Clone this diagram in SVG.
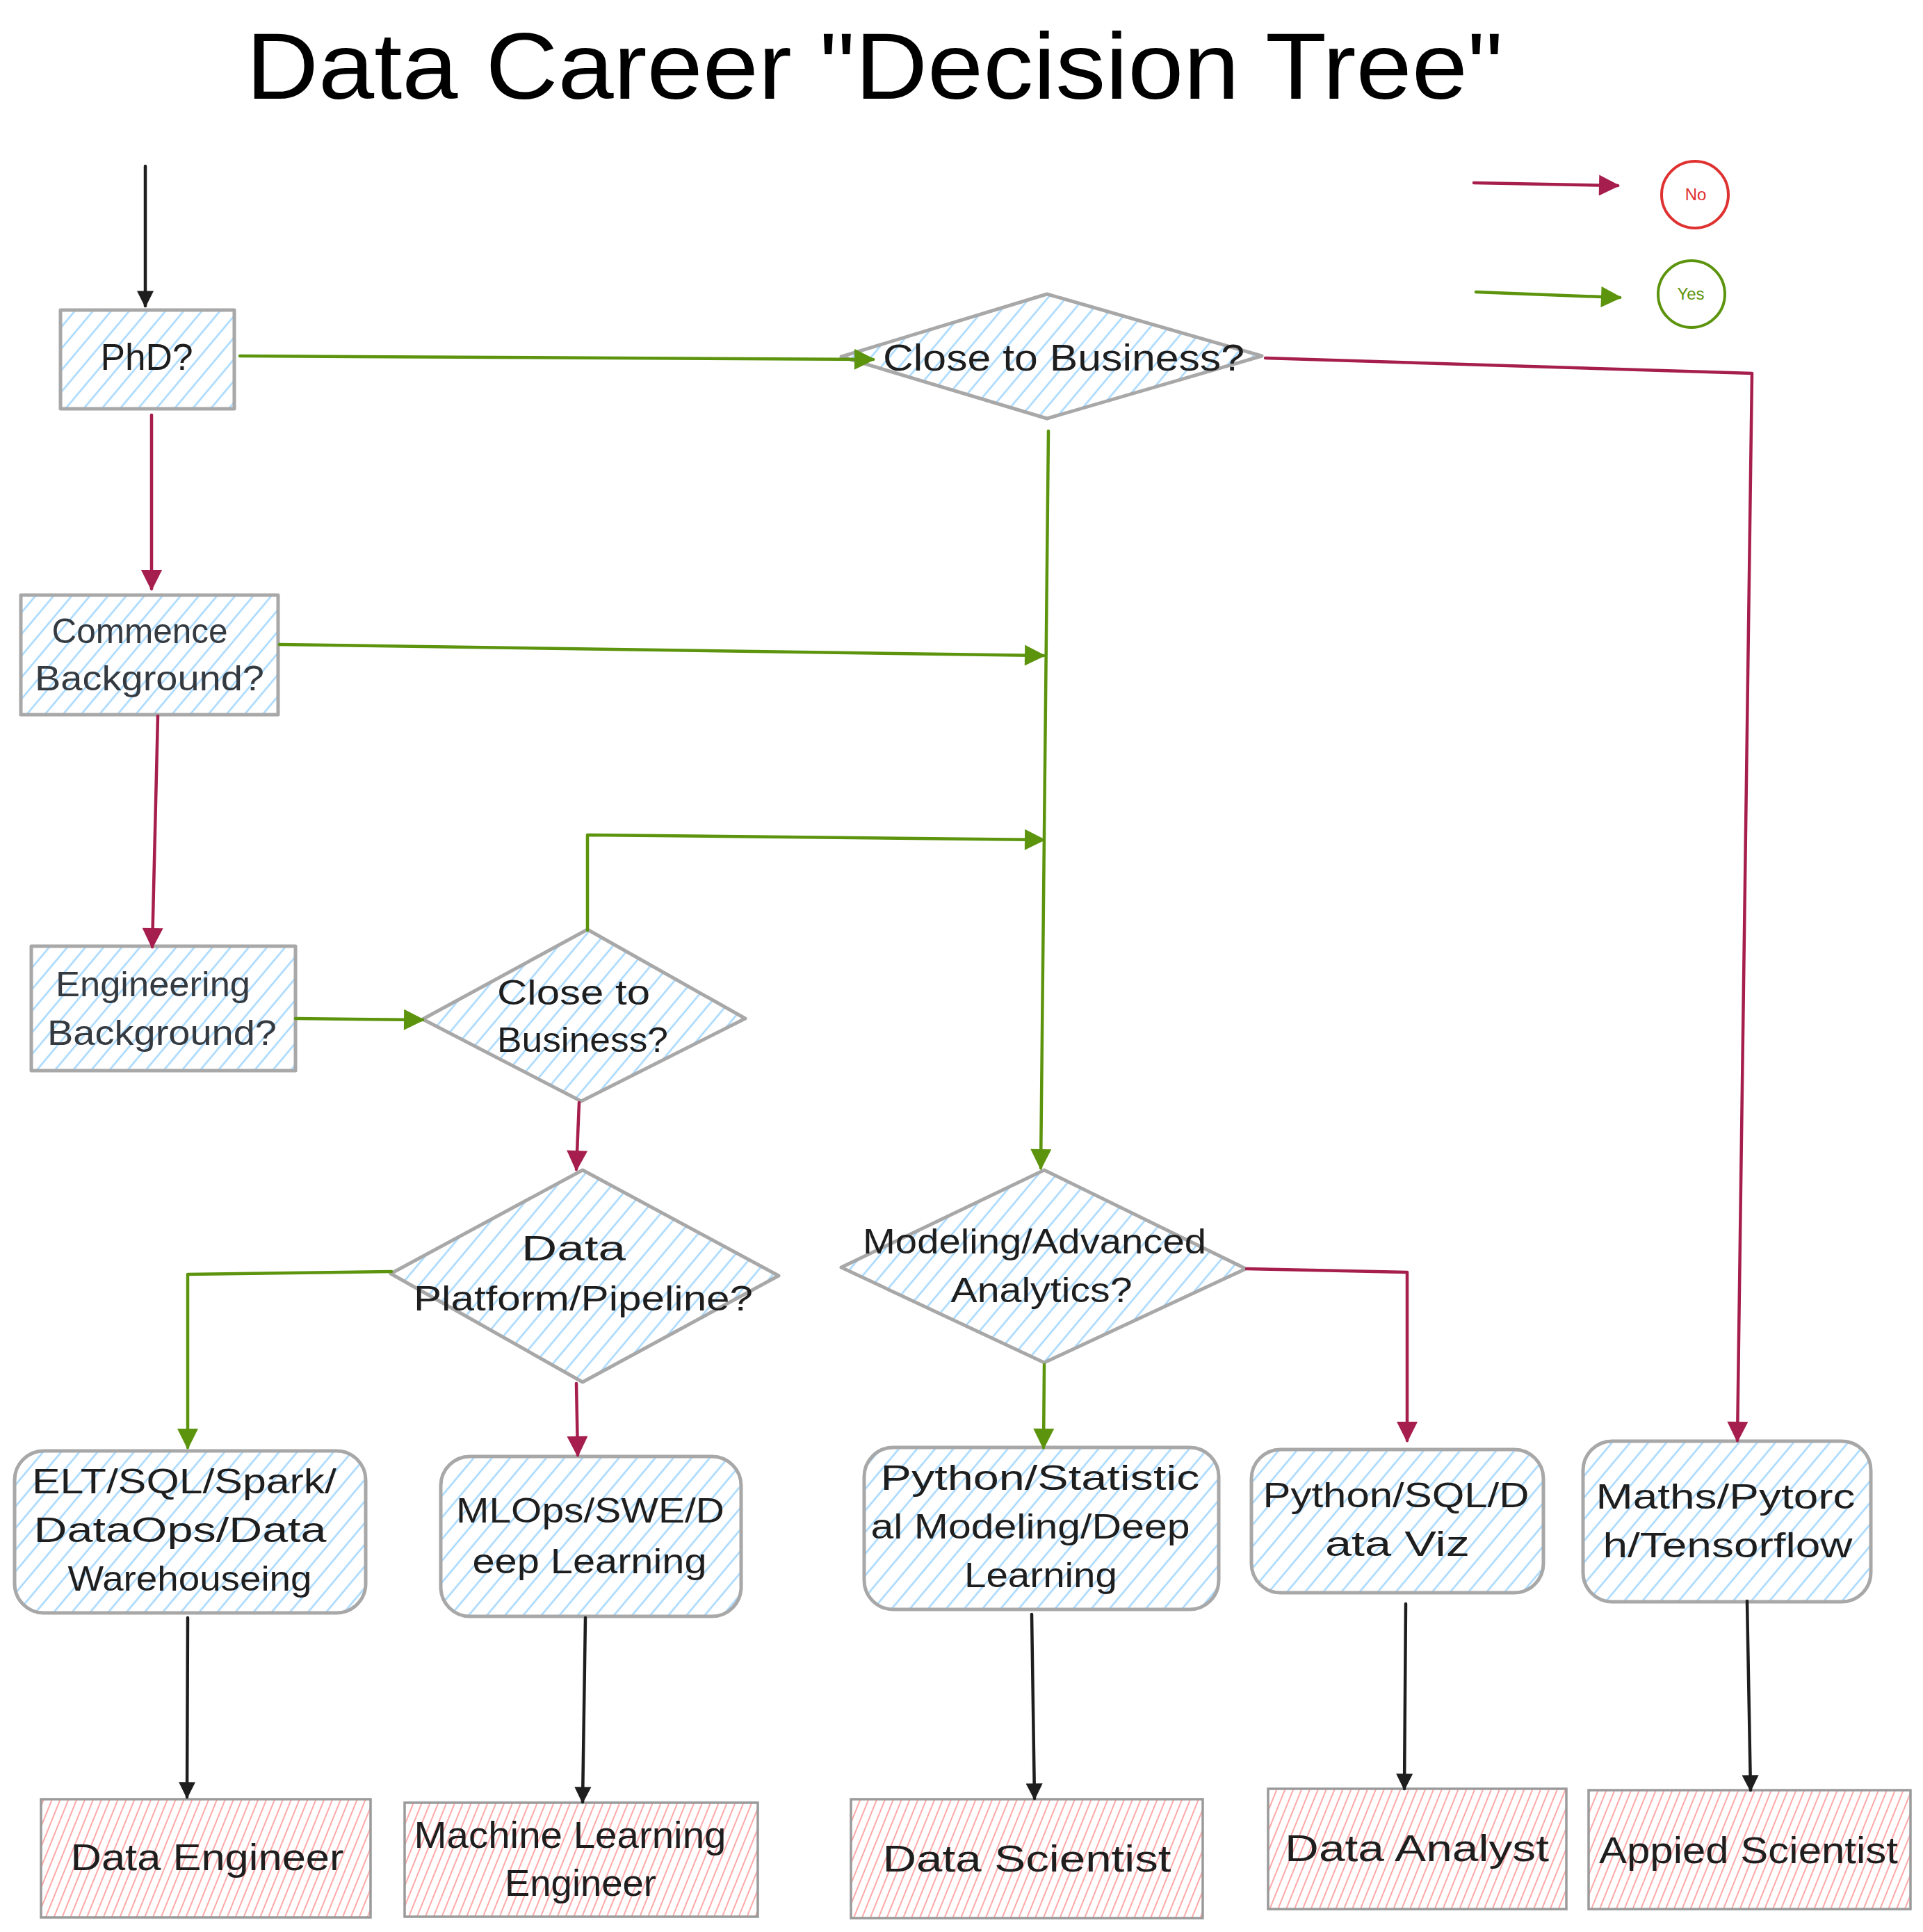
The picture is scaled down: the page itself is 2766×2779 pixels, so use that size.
<svg xmlns="http://www.w3.org/2000/svg" width="2766" height="2779" viewBox="0 0 2766 2779">
<style>
.t{font-family:"Liberation Sans","DejaVu Sans",sans-serif;font-size:50px;fill:#1e1e1e;text-anchor:middle}
.g{fill:#343a40}
.q{fill:url(#hb);stroke:#a8a8a8;stroke-width:5;stroke-linejoin:round}
.p{fill:url(#hp);stroke:#9a9a9a;stroke-width:3.5}
.c{fill:none;stroke-width:4.5;stroke-linecap:round;stroke-linejoin:round}
.r{stroke:#a61e4d;marker-end:url(#ar)}
.v{stroke:#5c940d;marker-end:url(#ag)}
.k{stroke:#1e1e1e;marker-end:url(#ak)}
</style>
<defs>
<pattern id="hb" patternUnits="userSpaceOnUse" width="20" height="20" patternTransform="rotate(40)"><rect width="20" height="20" fill="#ffffff"/><line x1="10" y1="0" x2="10" y2="20" stroke="#a5d8ff" stroke-width="2.5"/></pattern>
<pattern id="hp" patternUnits="userSpaceOnUse" width="11" height="11" patternTransform="rotate(22)"><rect width="11" height="11" fill="#ffffff"/><line x1="5" y1="0" x2="5" y2="11" stroke="#ffa8a8" stroke-width="2"/></pattern>
<marker id="ar" viewBox="0 0 10 10" refX="9" refY="5" markerUnits="userSpaceOnUse" markerWidth="34" markerHeight="30" orient="auto"><path d="M0,0 L10,5 L0,10 z" fill="#a61e4d"/></marker>
<marker id="ag" viewBox="0 0 10 10" refX="9" refY="5" markerUnits="userSpaceOnUse" markerWidth="34" markerHeight="30" orient="auto"><path d="M0,0 L10,5 L0,10 z" fill="#5c940d"/></marker>
<marker id="ak" viewBox="0 0 10 10" refX="9" refY="5" markerUnits="userSpaceOnUse" markerWidth="34" markerHeight="24" orient="auto"><path d="M0,0 L10,5 L0,10 z" fill="#1e1e1e"/></marker>
</defs>
<rect width="2766" height="2779" fill="#ffffff"/>

<text id="title" class="t" x="1258" y="142" style="font-size:136px;fill:#000" textLength="1808" lengthAdjust="spacingAndGlyphs">Data Career "Decision Tree"</text>

<g id="legend-no"><circle cx="2438" cy="280" r="48" fill="none" stroke="#e03131" stroke-width="4"/><text class="t" x="2439" y="288" style="font-size:24px;fill:#e03131">No</text></g>
<g id="legend-yes"><circle cx="2433" cy="423" r="48" fill="none" stroke="#5c940d" stroke-width="4"/><text class="t" x="2432" y="431" style="font-size:24px;fill:#5c940d">Yes</text></g>

<g id="phd"><rect class="q" x="87" y="446" width="250" height="142"/><text class="t" x="211" y="532" style="font-size:54px" textLength="133" lengthAdjust="spacingAndGlyphs">PhD?</text></g>

<g id="close-business-1"><polygon class="q" points="1506,423 1815,512 1506,602 1210,513"/><text class="t" x="1530" y="533" style="font-size:54px" textLength="520" lengthAdjust="spacingAndGlyphs">Close to Business?</text></g>

<g id="commence"><rect class="q" x="30" y="856" width="370" height="172"/><text class="t g" x="201" y="925" textLength="253" lengthAdjust="spacingAndGlyphs">Commence</text><text class="t g" x="215" y="993" textLength="330" lengthAdjust="spacingAndGlyphs">Background?</text></g>

<g id="engineering"><rect class="q" x="45" y="1361" width="380" height="179"/><text class="t g" x="220" y="1433" textLength="280" lengthAdjust="spacingAndGlyphs">Engineering</text><text class="t g" x="233" y="1503" textLength="330" lengthAdjust="spacingAndGlyphs">Background?</text></g>

<g id="close-business-2"><polygon class="q" points="845,1337 1072,1465 836,1584 608,1466"/><text class="t" x="825" y="1445" textLength="220" lengthAdjust="spacingAndGlyphs">Close to</text><text class="t" x="838" y="1513" textLength="246" lengthAdjust="spacingAndGlyphs">Business?</text></g>

<g id="data-platform"><polygon class="q" points="838,1683 1120,1835 838,1988 562,1832"/><text class="t" x="825" y="1813" textLength="150" lengthAdjust="spacingAndGlyphs">Data</text><text class="t" x="839" y="1885" textLength="488" lengthAdjust="spacingAndGlyphs">Platform/Pipeline?</text></g>

<g id="modeling"><polygon class="q" points="1502,1683 1792,1825 1502,1960 1210,1823"/><text class="t" x="1488" y="1803" textLength="494" lengthAdjust="spacingAndGlyphs">Modeling/Advanced</text><text class="t" x="1498" y="1873" textLength="261" lengthAdjust="spacingAndGlyphs">Analytics?</text></g>

<g id="elt"><rect class="q" x="21" y="2087" width="505" height="233" rx="42"/><text class="t" x="265" y="2148" textLength="438" lengthAdjust="spacingAndGlyphs">ELT/SQL/Spark/</text><text class="t" x="259" y="2218" textLength="421" lengthAdjust="spacingAndGlyphs">DataOps/Data</text><text class="t" x="273" y="2288" textLength="351" lengthAdjust="spacingAndGlyphs">Warehouseing</text></g>

<g id="mlops"><rect class="q" x="634" y="2095" width="432" height="230" rx="42"/><text class="t" x="849" y="2190" textLength="386" lengthAdjust="spacingAndGlyphs">MLOps/SWE/D</text><text class="t" x="848" y="2263" textLength="337" lengthAdjust="spacingAndGlyphs">eep Learning</text></g>

<g id="python-stat"><rect class="q" x="1243" y="2082" width="510" height="233" rx="42"/><text class="t" x="1496" y="2143" textLength="459" lengthAdjust="spacingAndGlyphs">Python/Statistic</text><text class="t" x="1482" y="2213" textLength="459" lengthAdjust="spacingAndGlyphs">al Modeling/Deep</text><text class="t" x="1497" y="2283" textLength="220" lengthAdjust="spacingAndGlyphs">Learning</text></g>

<g id="python-sql"><rect class="q" x="1800" y="2085" width="420" height="206" rx="42"/><text class="t" x="2008" y="2168" textLength="383" lengthAdjust="spacingAndGlyphs">Python/SQL/D</text><text class="t" x="2010" y="2238" textLength="208" lengthAdjust="spacingAndGlyphs">ata Viz</text></g>

<g id="maths"><rect class="q" x="2277" y="2073" width="414" height="231" rx="42"/><text class="t" x="2482" y="2170" textLength="373" lengthAdjust="spacingAndGlyphs">Maths/Pytorc</text><text class="t" x="2485" y="2240" textLength="359" lengthAdjust="spacingAndGlyphs">h/Tensorflow</text></g>

<g id="data-engineer"><rect class="p" x="59" y="2588" width="474" height="170"/><text class="t" x="298" y="2690" style="font-size:54px" textLength="393" lengthAdjust="spacingAndGlyphs">Data Engineer</text></g>

<g id="ml-engineer"><rect class="p" x="582" y="2593" width="508" height="164"/><text class="t" x="820" y="2658" style="font-size:54px" textLength="449" lengthAdjust="spacingAndGlyphs">Machine Learning</text><text class="t" x="835" y="2727" style="font-size:54px" textLength="218" lengthAdjust="spacingAndGlyphs">Engineer</text></g>

<g id="data-scientist"><rect class="p" x="1224" y="2588" width="506" height="171"/><text class="t" x="1477" y="2692" style="font-size:54px" textLength="415" lengthAdjust="spacingAndGlyphs">Data Scientist</text></g>

<g id="data-analyst"><rect class="p" x="1824" y="2573" width="429" height="173"/><text class="t" x="2038" y="2677" style="font-size:54px" textLength="380" lengthAdjust="spacingAndGlyphs">Data Analyst</text></g>

<g id="applied-scientist"><rect class="p" x="2285" y="2575" width="463" height="171"/><text class="t" x="2515" y="2680" style="font-size:54px" textLength="430" lengthAdjust="spacingAndGlyphs">Appied Scientist</text></g>

<g id="connectors">
<path class="c k" d="M209,239 L209,440"/>
<path class="c r" d="M218,597 L218,847"/>
<path class="c v" d="M345,512 L1256,517"/>
<path class="c r" d="M1820,515 L2520,537 L2499,2072"/>
<path class="c v" d="M1508,620 L1497,1680"/>
<path class="c v" d="M402,927 L1501,943"/>
<path class="c r" d="M227,1030 L219,1362"/>
<path class="c v" d="M425,1465 L608,1467"/>
<path class="c v" d="M845,1338 L845,1201 L1501,1208"/>
<path class="c r" d="M833,1586 L829,1682"/>
<path class="c v" d="M563,1829 L270,1833 L270,2082"/>
<path class="c r" d="M829,1990 L831,2093"/>
<path class="c v" d="M1502,1963 L1501,2082"/>
<path class="c r" d="M1793,1825 L2024,1830 L2024,2072"/>
<path class="c k" d="M270,2327 L269,2585"/>
<path class="c k" d="M842,2327 L838,2592"/>
<path class="c k" d="M1484,2322 L1488,2587"/>
<path class="c k" d="M2022,2307 L2020,2573"/>
<path class="c k" d="M2513,2303 L2518,2575"/>
<path class="c r" d="M2120,263 L2327,267"/>
<path class="c v" d="M2123,420 L2330,428"/>
</g>
</svg>
